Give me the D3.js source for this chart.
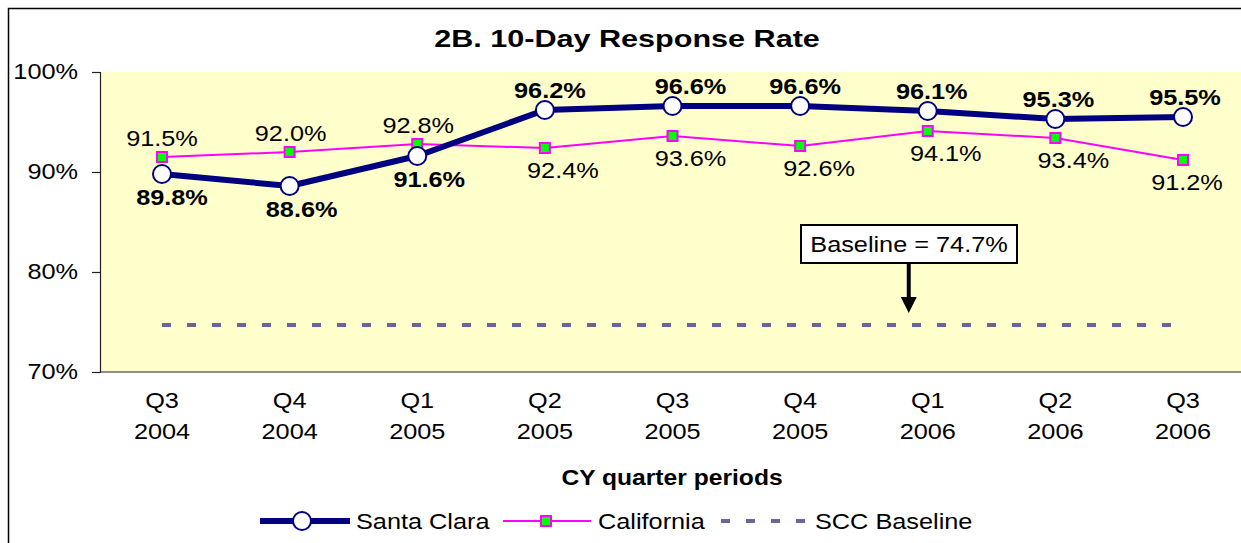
<!DOCTYPE html>
<html>
<head>
<meta charset="utf-8">
<script src="https://cdn.jsdelivr.net/npm/d3@7"></script>
<style>
  html, body { margin: 0; padding: 0; background: #fff; }
  svg { display: block; }
  text { font-family: "Liberation Sans", Arial, sans-serif; fill: #000; }
</style>
</head>
<body>
<svg id="chart" width="1241" height="543"></svg>
<script>
// ---- data ----
const quarters = ["Q3", "Q4", "Q1", "Q2", "Q3", "Q4", "Q1", "Q2", "Q3"];
const years = ["2004", "2004", "2005", "2005", "2005", "2005", "2006", "2006", "2006"];
const santaClara = [89.8, 88.6, 91.6, 96.2, 96.6, 96.6, 96.1, 95.3, 95.5];
const california = [91.5, 92.0, 92.8, 92.4, 93.6, 92.6, 94.1, 93.4, 91.2];
const sccLabelPos = ["below", "below", "below", "above", "above", "above", "above", "above", "above"];
const caLabelPos = ["above", "above", "above", "below", "below", "below", "below", "below", "below"];
const baselineValue = 74.7;
const yTicks = [70, 80, 90, 100];
const titleText = "2B. 10-Day Response Rate";
const xTitleText = "CY quarter periods";
const annotationText = "Baseline = 74.7%";
const legendNames = ["Santa Clara", "California", "SCC Baseline"];

// label nudges (layout only, px)
const sccLabelDx = [10, 12, 12, 5, 18, 5, 4, 3, 2];
const caLabelDx = [0, 1, 1, 18, 18, 19, 18, 18, 4];

// ---- setup ----
const W = 1241, H = 543;
const svg = d3.select("#chart");
const plot = { left: 100, top: 72, bottom: 372 };
const cats = quarters.map((q, i) => i);
const x = d3.scalePoint().domain(cats).range([162, 1183]);
const y = d3.scaleLinear().domain([70, 100]).range([plot.bottom, plot.top]);

const NAVY = "#000080", MAG = "#FF00FF", LIME = "#00FF00", BASE = "#666699";

function txt(g, px, py, s, o = {}) {
  const size = o.size || 22, sx = o.sx || 1.15;
  return g.append("text")
    .attr("transform", `translate(${px},${py}) scale(${sx},1)`)
    .attr("text-anchor", o.anchor || "middle")
    .attr("dy", "0.35em")
    .style("font-size", size + "px")
    .style("font-weight", o.weight || "normal")
    .text(s);
}

// outer border
svg.append("rect").attr("x", 8.5).attr("y", 8.5).attr("width", W + 10).attr("height", H + 10)
  .attr("fill", "#fff").attr("stroke", "#000").attr("stroke-width", 1.5);

// plot area background
svg.append("rect").attr("x", plot.left).attr("y", plot.top)
  .attr("width", W - plot.left + 10).attr("height", plot.bottom - plot.top)
  .attr("fill", "#FFFFCC");

// title
txt(svg, 627, 39, titleText, { size: 23, weight: "bold", sx: 1.33 });

// y axis
const yAxis = svg.append("g").attr("transform", `translate(${plot.left},0)`)
  .call(d3.axisLeft(y).tickValues(yTicks).tickSize(8).tickFormat(""));
yAxis.select(".domain").attr("stroke", "#222").attr("stroke-width", 1.2);
yAxis.selectAll(".tick line").attr("stroke", "#222").attr("stroke-width", 1.2);
yTicks.forEach(v => txt(svg, 78, y(v) - 1, v + "%", { anchor: "end" }));

// x axis
const xAxis = svg.append("g").attr("transform", `translate(0,${plot.bottom})`)
  .call(d3.axisBottom(x).tickSize(0).tickFormat(""));
xAxis.select(".domain").attr("d", `M${plot.left},0H${W + 10}`).attr("stroke", "#222").attr("stroke-width", 1.2);
cats.forEach(i => {
  txt(svg, x(i), 400, quarters[i]);
  txt(svg, x(i), 431.5, years[i]);
});
txt(svg, 672, 477, xTitleText, { weight: "bold", sx: 1.12 });

// baseline dashed line
svg.append("line")
  .attr("x1", x(0)).attr("x2", x(cats.length - 1))
  .attr("y1", y(baselineValue)).attr("y2", y(baselineValue))
  .attr("stroke", BASE).attr("stroke-width", 4).attr("stroke-dasharray", "9,16");

// annotation box + arrow
const annX = x(6) - 19;
const ann = svg.append("g");
ann.append("rect").attr("x", 801).attr("y", 225).attr("width", 216).attr("height", 38)
  .attr("fill", "#fff").attr("stroke", "#000").attr("stroke-width", 2);
txt(ann, 909, 244, annotationText, { sx: 1.15 });
ann.append("line").attr("x1", annX).attr("x2", annX).attr("y1", 263).attr("y2", y(baselineValue) - 26)
  .attr("stroke", "#000").attr("stroke-width", 4);
ann.append("path")
  .attr("d", `M${annX - 8},${y(baselineValue) - 28}L${annX + 8},${y(baselineValue) - 28}L${annX},${y(baselineValue) - 12}Z`)
  .attr("fill", "#000");

// California line
const lineGen = d3.line().x((d, i) => x(i)).y(d => y(d));
svg.append("path").datum(california).attr("d", lineGen)
  .attr("fill", "none").attr("stroke", MAG).attr("stroke-width", 2);
svg.selectAll(".ca").data(california).join("rect").attr("class", "ca")
  .attr("x", (d, i) => x(i) - 5).attr("y", d => y(d) - 5)
  .attr("width", 10).attr("height", 10)
  .attr("fill", LIME).attr("stroke", MAG).attr("stroke-width", 2);

// Santa Clara line
svg.append("path").datum(santaClara).attr("d", lineGen)
  .attr("fill", "none").attr("stroke", NAVY).attr("stroke-width", 6).attr("stroke-linejoin", "round");
svg.selectAll(".sc").data(santaClara).join("circle").attr("class", "sc")
  .attr("cx", (d, i) => x(i)).attr("cy", d => y(d)).attr("r", 9)
  .attr("fill", "#fff").attr("stroke", NAVY).attr("stroke-width", 2);

// data labels
california.forEach((v, i) => {
  const off = caLabelPos[i] === "above" ? -19 : 22;
  txt(svg, x(i) + caLabelDx[i], y(v) + off, v.toFixed(1) + "%");
});
santaClara.forEach((v, i) => {
  const off = sccLabelPos[i] === "above" ? -20 : 23;
  txt(svg, x(i) + sccLabelDx[i], y(v) + off, v.toFixed(1) + "%", { weight: "bold" });
});

// legend
const ly = 521;
const lg = svg.append("g");
lg.append("line").attr("x1", 260).attr("x2", 350).attr("y1", ly).attr("y2", ly)
  .attr("stroke", NAVY).attr("stroke-width", 6);
lg.append("circle").attr("cx", 302).attr("cy", ly).attr("r", 9)
  .attr("fill", "#fff").attr("stroke", NAVY).attr("stroke-width", 2);
txt(lg, 356, ly, legendNames[0], { anchor: "start" });
lg.append("line").attr("x1", 503).attr("x2", 591).attr("y1", ly).attr("y2", ly)
  .attr("stroke", MAG).attr("stroke-width", 2);
lg.append("rect").attr("x", 541).attr("y", ly - 5).attr("width", 10).attr("height", 10)
  .attr("fill", LIME).attr("stroke", MAG).attr("stroke-width", 2);
txt(lg, 598, ly, legendNames[1], { anchor: "start" });
lg.append("line").attr("x1", 721).attr("x2", 808).attr("y1", ly).attr("y2", ly)
  .attr("stroke", BASE).attr("stroke-width", 4).attr("stroke-dasharray", "9,16");
txt(lg, 815, ly, legendNames[2], { anchor: "start" });
</script>
</body>
</html>
